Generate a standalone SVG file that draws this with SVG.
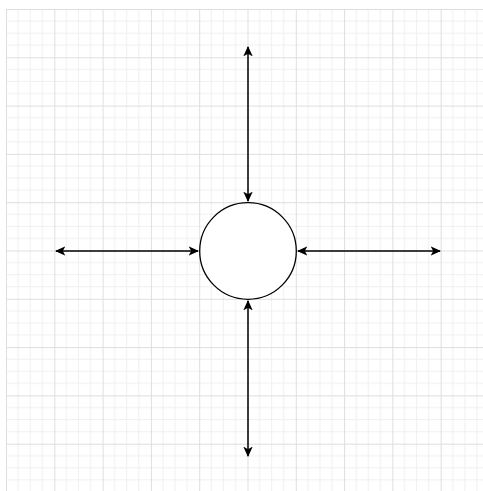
<svg xmlns="http://www.w3.org/2000/svg" width="483" height="491" viewBox="0 0 483 491">
  <style>
    .minor { stroke: #f0f0f0; stroke-width: 1; }
    .major { stroke: #dedede; stroke-width: 1; }
    .conn { stroke: #000; stroke-width: 1.5; fill: none; marker-start: url(#arrow); marker-end: url(#arrow); }
    .node { fill: #fff; stroke: #000; stroke-width: 1.3; }
  </style>
  <defs>
    <pattern id="grid" patternUnits="userSpaceOnUse" x="6" y="9" width="48.3" height="48.3">
      <path class="minor" d="M12.075 0V48.3M24.15 0V48.3M36.225 0V48.3M0 12.075H48.3M0 24.15H48.3M0 36.225H48.3"/>
      <path class="major" d="M0.5 0V48.3M0 0.5H48.3"/>
    </pattern>
    <marker id="arrow" viewBox="0 0 10 10" refX="9" refY="5" markerWidth="7" markerHeight="7" orient="auto-start-reverse" markerUnits="strokeWidth">
      <path d="M0 0.5L10 5L0 9.5L2.5 5Z" fill="#000"/>
    </marker>
  </defs>
  <rect width="483" height="491" fill="#fff"/>
  <rect x="6" y="9" width="477" height="482" fill="url(#grid)"/>
  <g id="connectors">
    <line class="conn" x1="198" y1="251" x2="56" y2="251"/>
    <line class="conn" x1="298" y1="251" x2="440" y2="251"/>
    <line class="conn" x1="248" y1="201" x2="248" y2="47"/>
    <line class="conn" x1="248" y1="301" x2="248" y2="456"/>
  </g>
  <g id="center">
    <circle class="node" cx="248" cy="251" r="48.3"/>
  </g>
</svg>
